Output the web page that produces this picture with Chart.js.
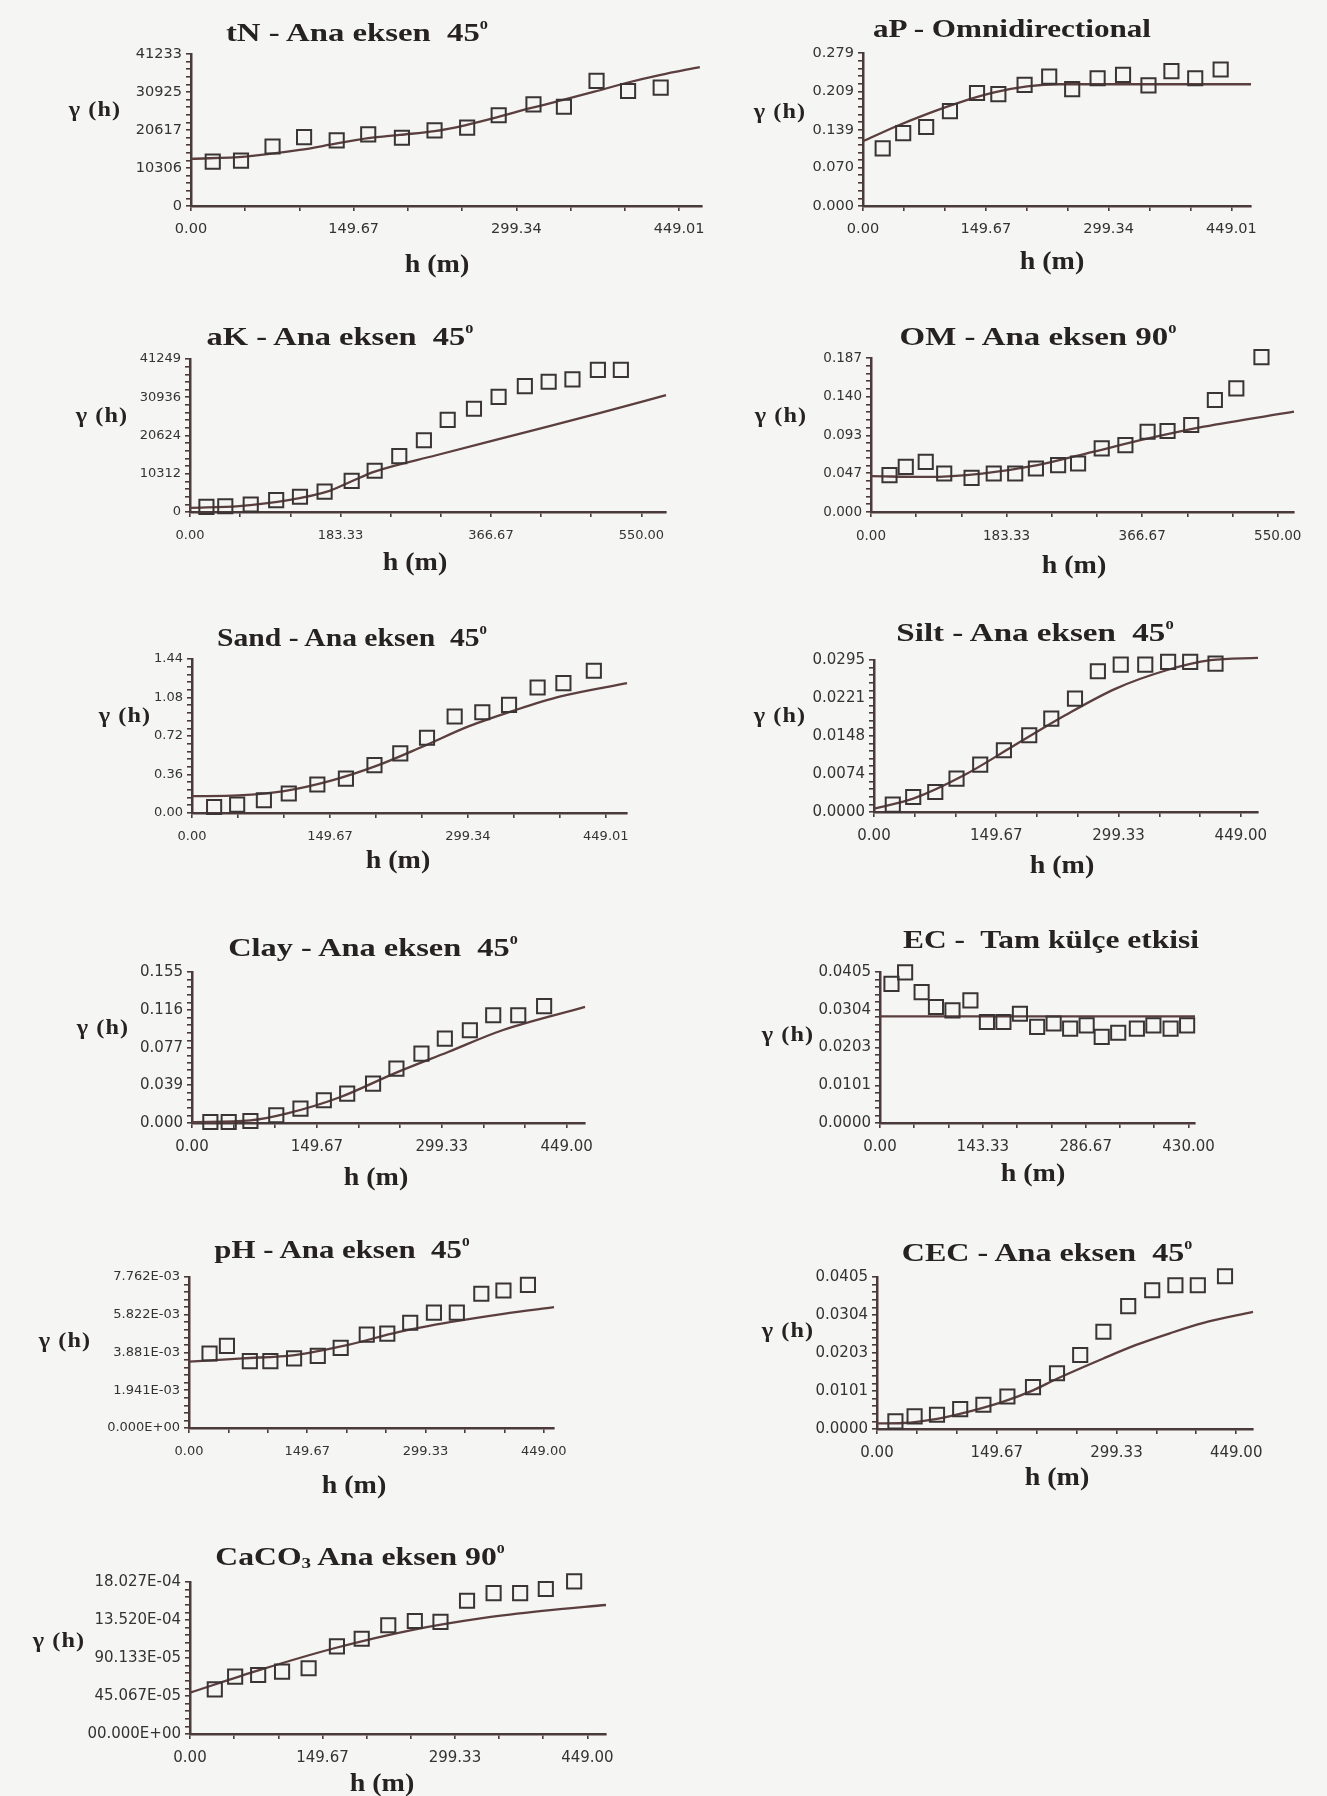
<!DOCTYPE html>
<html lang="tr">
<head>
<meta charset="UTF-8">
<title>Variogramlar</title>
<script src="https://cdn.jsdelivr.net/npm/chart.js@4.4.1/dist/chart.umd.min.js"></script>
<style>
  body { margin: 0; background: #f5f5f3; }
  #page { position: relative; width: 1327px; height: 1796px; overflow: hidden; }
  canvas { position: absolute; }
  .lbl { position: absolute; transform: translate(-50%, -50%); white-space: nowrap;
         font-family: "Liberation Serif", "Times New Roman", serif; font-weight: bold; color: #262222; z-index: 2; }
  .title { font-size: 26px; }
  .ylab { font-size: 22px; letter-spacing: 1px; }
  .xlab { font-size: 25px; }
  sup { font-size: 0.5em; vertical-align: 0.9em; line-height: 0; }
  sub { font-size: 0.6em; vertical-align: -0.2em; line-height: 0; }
</style>
</head>
<body>
<div id="page"></div>
<script>
// tick labels
const xTicksA = ['0.00', '149.67', '299.34', '449.01'];
const xTicksB = ['0.00', '183.33', '366.67', '550.00'];
const xTicksC = ['0.00', '149.67', '299.33', '449.00'];
const xTicksD = ['0.00', '143.33', '286.67', '430.00'];

// tN
const tnYTicks = ['0', '10306', '20617', '30925', '41233'];
const tnLag = [20, 46, 75, 104, 134, 163, 194, 224, 254, 283, 315, 343, 373, 402, 432];
const tnGamma = [12040, 12320, 16150, 18700, 17790, 19430, 18520, 20520, 21250, 24630, 27550, 26910, 33930, 31200, 32110];
const tnModelLag = [0, 50, 100, 133, 163, 192, 224, 252, 282, 313, 344, 371, 402, 431, 468];
const tnModelGamma = [12800, 13400, 15200, 16900, 18400, 19300, 20300, 21900, 24100, 26600, 28900, 31000, 33500, 35500, 37700];

// aP
const apYTicks = ['0.000', '0.070', '0.139', '0.209', '0.279'];
const apLag = [24, 49, 77, 106, 139, 165, 197, 227, 255, 286, 317, 348, 376, 405, 436];
const apGamma = [0.105, 0.133, 0.144, 0.173, 0.206, 0.204, 0.221, 0.236, 0.213, 0.233, 0.239, 0.220, 0.246, 0.233, 0.249];
const apModelLag = [0, 40, 80, 120, 160, 200, 240, 473];
const apModelGamma = [0.118, 0.145, 0.169, 0.190, 0.207, 0.218, 0.222, 0.222];

// aK
const akYTicks = ['0', '10312', '20624', '30936', '41249'];
const akLag = [20, 43, 74, 105, 134, 164, 197, 225, 255, 285, 314, 346, 376, 408, 437, 466, 497, 525];
const akGamma = [1370, 1550, 2010, 3190, 4110, 5480, 8400, 11130, 15060, 19350, 24820, 27830, 31030, 33950, 35130, 35770, 38330, 38330];
const akModelLag = [0, 60, 120, 170, 197, 225, 300, 400, 500, 580];
const akModelGamma = [1100, 1600, 3200, 5700, 8300, 10900, 15300, 21000, 26700, 31500];

// OM
const omYTicks = ['0.000', '0.047', '0.093', '0.140', '0.187'];
const omLag = [25, 47, 74, 99, 136, 166, 195, 223, 253, 280, 312, 344, 374, 401, 433, 465, 494, 528];
const omGamma = [0.0447, 0.0548, 0.0609, 0.0467, 0.0414, 0.0467, 0.0467, 0.0528, 0.0569, 0.0589, 0.0772, 0.0812, 0.0975, 0.0983, 0.1056, 0.1360, 0.1502, 0.1880];
const omModelLag = [0, 75, 150, 225, 300, 375, 450, 572];
const omModelGamma = [0.0435, 0.0426, 0.0467, 0.0569, 0.0731, 0.0893, 0.1036, 0.1218];

// Sand
const sandYTicks = ['0.00', '0.36', '0.72', '1.08', '1.44'];
const sandLag = [24, 49, 78, 105, 136, 167, 198, 226, 255, 285, 315, 344, 375, 403, 436];
const sandGamma = [0.056, 0.078, 0.119, 0.182, 0.266, 0.322, 0.448, 0.557, 0.704, 0.902, 0.942, 1.011, 1.174, 1.215, 1.330];
const sandModelLag = [0, 50, 100, 150, 200, 250, 300, 350, 400, 472];
const sandModelGamma = [0.157, 0.165, 0.205, 0.300, 0.440, 0.620, 0.810, 0.960, 1.090, 1.214];

// Silt
const siltYTicks = ['0.0000', '0.0074', '0.0148', '0.0221', '0.0295'];
const siltLag = [23, 48, 75, 101, 130, 159, 190, 217, 246, 274, 302, 332, 360, 387, 418];
const siltGamma = [0.00142, 0.00291, 0.00388, 0.00647, 0.00919, 0.01198, 0.01489, 0.01813, 0.02201, 0.02732, 0.02861, 0.02861, 0.02913, 0.02913, 0.02880];
const siltModelLag = [0, 48, 110, 172, 234, 296, 358, 412, 470];
const siltModelGamma = [0.00065, 0.00259, 0.00712, 0.01295, 0.01877, 0.02395, 0.02751, 0.02946, 0.02990];

// Clay
const clayYTicks = ['0.000', '0.039', '0.077', '0.116', '0.155'];
const clayLag = [22, 44, 70, 101, 130, 158, 186, 217, 245, 275, 303, 333, 361, 391, 422];
const clayGamma = [0.001, 0.001, 0.002, 0.0079, 0.0147, 0.0233, 0.0301, 0.0404, 0.0558, 0.0712, 0.0866, 0.0952, 0.1106, 0.1106, 0.1199];
const clayModelLag = [0, 70, 113, 178, 242, 307, 372, 471];
const clayModelGamma = [0.001, 0.0027, 0.0096, 0.0267, 0.0507, 0.0729, 0.0952, 0.1192];

// EC
const ecYTicks = ['0.0000', '0.0101', '0.0203', '0.0304', '0.0405'];
const ecLag = [16, 35, 58, 78, 101, 126, 149, 172, 195, 219, 242, 265, 288, 309, 332, 358, 381, 405, 428];
const ecGamma = [0.0373, 0.0404, 0.0351, 0.0311, 0.0302, 0.0329, 0.0271, 0.0271, 0.0293, 0.0258, 0.0267, 0.0253, 0.0262, 0.0231, 0.0242, 0.0253, 0.0262, 0.0253, 0.0262];
const ecModelLag = [0, 439];
const ecModelGamma = [0.0286, 0.0286];

// pH
const phYTicks = ['0.000E+00', '1.941E-03', '3.881E-03', '5.822E-03', '7.762E-03'];
const phLag = [26, 48, 77, 103, 133, 163, 192, 225, 251, 280, 310, 339, 370, 398, 429];
const phGamma = [0.00383, 0.00422, 0.00344, 0.00344, 0.00358, 0.00371, 0.00412, 0.00480, 0.00485, 0.00541, 0.00593, 0.00593, 0.00690, 0.00707, 0.00736];
const phModelLag = [0, 68, 134, 200, 266, 332, 398, 462];
const phModelGamma = [0.00341, 0.00358, 0.00375, 0.00426, 0.00494, 0.00545, 0.00587, 0.00621];

// CEC
const cecYTicks = ['0.0000', '0.0101', '0.0203', '0.0304', '0.0405'];
const cecLag = [23, 47, 75, 104, 133, 163, 195, 225, 254, 283, 314, 344, 373, 401, 435];
const cecGamma = [0.00203, 0.00336, 0.00380, 0.00531, 0.00646, 0.00867, 0.01115, 0.01486, 0.01973, 0.02592, 0.03274, 0.03698, 0.03831, 0.03831, 0.04070];
const cecModelLag = [0, 33, 75, 116, 158, 195, 225, 283, 324, 366, 407, 470];
const cecModelGamma = [0.0015, 0.0016, 0.0027, 0.0047, 0.0073, 0.0103, 0.0134, 0.0188, 0.0224, 0.0255, 0.0282, 0.0312];

// CaCO3
const cacoYTicks = ['00.000E+00', '45.067E-05', '90.133E-05', '13.520E-04', '18.027E-04'];
const cacoLag = [28, 51, 77, 104, 134, 166, 194, 224, 254, 283, 313, 343, 373, 402, 434];
const cacoGamma = [0.00053, 0.00068, 0.00070, 0.00074, 0.00078, 0.00104, 0.00113, 0.00129, 0.00134, 0.00133, 0.00158, 0.00167, 0.00167, 0.00172, 0.00181];
const cacoModelLag = [0, 79, 164, 249, 334, 398, 470];
const cacoModelGamma = [0.00049, 0.00076, 0.00102, 0.00123, 0.00138, 0.00146, 0.00153];

// panel placement (page pixels): box = plot left, right, top tick, x axis; label centres; title width; tick font size
const panels = [
  { title: 'tN - Ana eksen&nbsp; 45<sup>0</sup>', lag: tnLag, gamma: tnGamma, mLag: tnModelLag, mGamma: tnModelGamma,
    xt: xTicksA, yt: tnYTicks, xMax: 470, box: [191, 702, 54, 206], t: [357, 33], tw: 262, yl: [95, 109], xl: [437, 264], fs: 14.5 },
  { title: 'aP - Omnidirectional', lag: apLag, gamma: apGamma, mLag: apModelLag, mGamma: apModelGamma,
    xt: xTicksA, yt: apYTicks, xMax: 473, box: [863, 1251, 53, 206], t: [1012, 29], tw: 278, yl: [780, 111], xl: [1052, 261], fs: 14.5 },
  { title: 'aK - Ana eksen&nbsp; 45<sup>0</sup>', lag: akLag, gamma: akGamma, mLag: akModelLag, mGamma: akModelGamma,
    xt: xTicksB, yt: akYTicks, xMax: 580, box: [190, 666, 359, 512], t: [340, 337], tw: 267, yl: [102, 415], xl: [415, 562], fs: 13 },
  { title: 'OM - Ana eksen 90<sup>0</sup>', lag: omLag, gamma: omGamma, mLag: omModelLag, mGamma: omModelGamma,
    xt: xTicksB, yt: omYTicks, xMax: 572, box: [871, 1294, 358, 512], t: [1038, 337], tw: 277, yl: [781, 415], xl: [1074, 565], fs: 13.5 },
  { title: 'Sand - Ana eksen&nbsp; 45<sup>0</sup>', lag: sandLag, gamma: sandGamma, mLag: sandModelLag, mGamma: sandModelGamma,
    xt: xTicksA, yt: sandYTicks, xMax: 472, box: [192, 627, 659, 813], t: [352, 638], tw: 270, yl: [125, 715], xl: [398, 860], fs: 13 },
  { title: 'Silt - Ana eksen&nbsp; 45<sup>0</sup>', lag: siltLag, gamma: siltGamma, mLag: siltModelLag, mGamma: siltModelGamma,
    xt: xTicksC, yt: siltYTicks, xMax: 470, box: [874, 1258, 660, 812], t: [1035, 633], tw: 277, yl: [780, 715], xl: [1062, 865], fs: 15 },
  { title: 'Clay - Ana eksen&nbsp; 45<sup>0</sup>', lag: clayLag, gamma: clayGamma, mLag: clayModelLag, mGamma: clayModelGamma,
    xt: xTicksC, yt: clayYTicks, xMax: 471, box: [192, 585, 972, 1123], t: [373, 948], tw: 290, yl: [103, 1027], xl: [376, 1177], fs: 15 },
  { title: 'EC -&nbsp; Tam külçe etkisi', lag: ecLag, gamma: ecGamma, mLag: ecModelLag, mGamma: ecModelGamma,
    xt: xTicksD, yt: ecYTicks, xMax: 439, box: [880, 1195, 972, 1123], t: [1051, 940], tw: 296, yl: [788, 1034], xl: [1033, 1173], fs: 15 },
  { title: 'pH - Ana eksen&nbsp; 45<sup>0</sup>', lag: phLag, gamma: phGamma, mLag: phModelLag, mGamma: phModelGamma,
    xt: xTicksC, yt: phYTicks, xMax: 462, box: [189, 554, 1277, 1428], t: [342, 1250], tw: 255, yl: [65, 1340], xl: [354, 1485], fs: 13 },
  { title: 'CEC - Ana eksen&nbsp; 45<sup>0</sup>', lag: cecLag, gamma: cecGamma, mLag: cecModelLag, mGamma: cecModelGamma,
    xt: xTicksC, yt: cecYTicks, xMax: 470, box: [877, 1253, 1277, 1429], t: [1047, 1253], tw: 290, yl: [788, 1330], xl: [1057, 1477], fs: 15 },
  { title: 'CaCO<sub>3</sub> Ana eksen 90<sup>0</sup>', lag: cacoLag, gamma: cacoGamma, mLag: cacoModelLag, mGamma: cacoModelGamma,
    xt: xTicksC, yt: cacoYTicks, xMax: 470, box: [190, 606, 1582, 1734], t: [360, 1557], tw: 290, yl: [59, 1640], xl: [382, 1783], fs: 15 }
];

const YW = 140, PT = 22, PR = 40, XH = 48, TICK = 5;
const axisColor = '#4a3a3a';
const lineColor = '#5b3e3e';
const markColor = '#3a3434';
const page = document.getElementById('page');

function tickList(labels, sub) {
  const vals = labels.map(parseFloat);
  const out = [];
  for (let i = 0; i < vals.length; i++) {
    out.push({ value: vals[i], lbl: labels[i] });
    if (i < vals.length - 1) {
      for (let k = 1; k < sub; k++) {
        out.push({ value: vals[i] + (vals[i + 1] - vals[i]) * k / sub, lbl: '' });
      }
    }
  }
  return out;
}

function addLabel(cls, html, at, stretch) {
  const d = document.createElement('div');
  d.className = 'lbl ' + cls;
  d.innerHTML = html;
  d.style.left = at[0] + 'px';
  d.style.top = at[1] + 'px';
  page.appendChild(d);
  if (stretch) d.style.transform = 'translate(-50%, -50%) scaleX(' + stretch(d.offsetWidth).toFixed(3) + ')';
  return d;
}

panels.forEach(p => {
  const [L, R, T, B] = p.box;
  const c = document.createElement('canvas');
  c.width = YW + (R - L) + PR;
  c.height = PT + (B - T) + XH;
  c.style.left = (L - YW) + 'px';
  c.style.top = (T - PT) + 'px';
  page.appendChild(c);

  const yMax = parseFloat(p.yt[p.yt.length - 1]);
  const font = { family: '"DejaVu Sans", Verdana, sans-serif', size: p.fs };
  const grid = { drawOnChartArea: false, drawTicks: true, tickLength: TICK, color: axisColor, lineWidth: 1.6 };
  const border = { display: true, color: axisColor, width: 2.5 };

  new Chart(c, {
    type: 'scatter',
    data: {
      datasets: [
        {
          data: p.lag.map((x, i) => ({ x: x, y: p.gamma[i] })),
          showLine: false,
          pointStyle: 'rect',
          pointRadius: 10,
          borderWidth: 2,
          pointBorderWidth: 2,
          borderColor: markColor,
          pointBorderColor: markColor,
          backgroundColor: 'rgba(0,0,0,0)',
          pointBackgroundColor: 'rgba(0,0,0,0)',
          clip: false
        },
        {
          data: p.mLag.map((x, i) => ({ x: x, y: p.mGamma[i] })),
          showLine: true,
          pointRadius: 0,
          borderColor: lineColor,
          borderWidth: 2.3,
          cubicInterpolationMode: 'monotone',
          fill: false,
          clip: false
        }
      ]
    },
    options: {
      responsive: false,
      animation: false,
      devicePixelRatio: 1,
      events: [],
      layout: { padding: { left: 0, right: PR, top: PT, bottom: 0 } },
      plugins: { legend: { display: false }, tooltip: { enabled: false } },
      scales: {
        x: {
          type: 'linear', min: 0, max: p.xMax,
          afterBuildTicks: s => { s.ticks = tickList(p.xt, 3); },
          afterFit: s => { s.height = XH; },
          ticks: { autoSkip: false, maxRotation: 0, minRotation: 0, padding: Math.round(19 - 0.6 * p.fs),
                   color: '#333', font: font, callback: (v, i, t) => t[i].lbl },
          grid: grid,
          border: border
        },
        y: {
          type: 'linear', min: 0, max: yMax,
          afterBuildTicks: s => { s.ticks = tickList(p.yt, 5); },
          afterFit: s => { s.width = YW; },
          ticks: { autoSkip: false, padding: 4, color: '#333', font: font, callback: (v, i, t) => t[i].lbl },
          grid: grid,
          border: border
        }
      }
    }
  });

  addLabel('title', p.title, p.t, w => Math.max(0.9, Math.min(1.35, p.tw / w)));
  addLabel('ylab', 'γ (h)', p.yl, () => 1.1);
  addLabel('xlab', 'h (m)', p.xl, () => 1.12);
});
</script>
</body>
</html>
